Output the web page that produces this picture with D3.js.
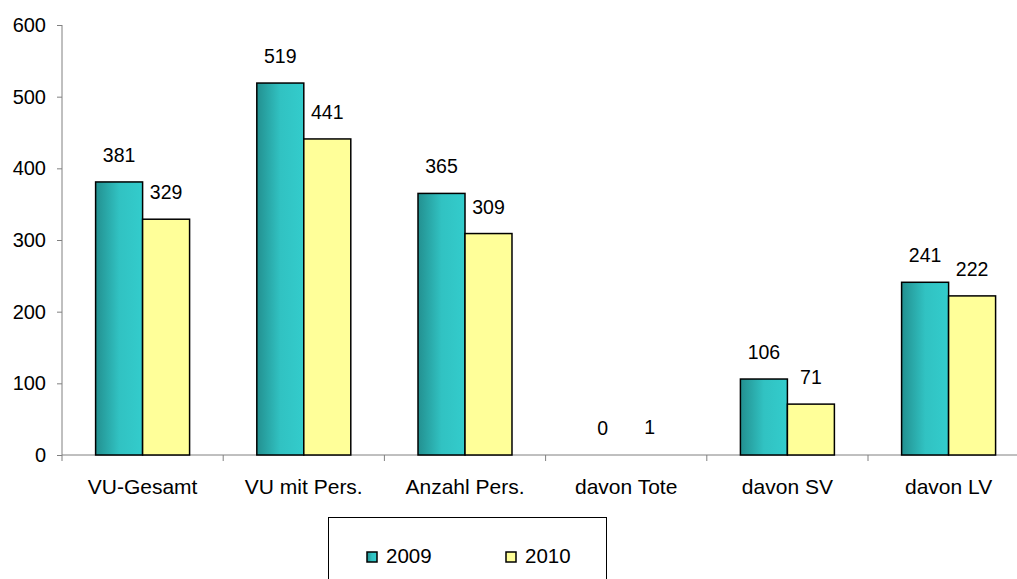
<!DOCTYPE html>
<html>
<head>
<meta charset="utf-8">
<script src="https://cdn.jsdelivr.net/npm/d3@7"></script>
<style>
  body { margin: 0; background: #fff; }
  text { font-family: "Liberation Sans", Arial, sans-serif; fill: #000; }
</style>
</head>
<body>
<div id="chart"></div>
<script>
// data
var categories = ["VU-Gesamt", "VU mit Pers.", "Anzahl Pers.", "davon Tote", "davon SV", "davon LV"];
var series = ["2009", "2010"];
var values2009 = [381, 519, 365, 0, 106, 241];
var values2010 = [329, 441, 309, 1, 71, 222];
var yTicks = [0, 100, 200, 300, 400, 500, 600];

var W = 1017, H = 579;
var left = 62, top_ = 25, bottom = 455;
var step = 161.2;

var svg = d3.select("#chart").append("svg")
    .attr("width", W).attr("height", H);

var defs = svg.append("defs");
var grad = defs.append("linearGradient").attr("id", "teal")
    .attr("x1", "0%").attr("x2", "100%").attr("y1", "0%").attr("y2", "0%");
grad.append("stop").attr("offset", "0%").attr("stop-color", "#239090");
grad.append("stop").attr("offset", "50%").attr("stop-color", "#31c2c2");
grad.append("stop").attr("offset", "100%").attr("stop-color", "#33cccc");

var colors = { "2009": "url(#teal)", "2010": "#ffff99" };

var x0 = d3.scaleBand().domain(categories)
    .range([left, left + step * categories.length]).padding(0);
var x1 = d3.scaleBand().domain(series)
    .range([x0.bandwidth() * 0.2085, x0.bandwidth() * 0.7915]).padding(0);
var y = d3.scaleLinear().domain([0, 600]).range([bottom, top_]);

// y axis
var yAxis = svg.append("g")
    .attr("transform", "translate(" + left + ",0)")
    .call(d3.axisLeft(y).tickValues(yTicks).tickSize(5).tickPadding(11));
yAxis.select(".domain").attr("stroke", "#808080").attr("d", "M0," + top_ + "V" + bottom);
yAxis.selectAll(".tick line").attr("stroke", "#808080");
yAxis.selectAll(".tick text")
    .style("font-family", "Liberation Sans, Arial, sans-serif")
    .style("font-size", "20px").attr("fill", "#000");

// x axis line and ticks at category boundaries
svg.append("line")
    .attr("x1", left).attr("x2", W).attr("y1", bottom).attr("y2", bottom)
    .attr("stroke", "#808080");
var bounds = categories.map(function (c) { return x0(c); });
bounds.push(x0.range()[1]);
svg.selectAll(".xtick").data(bounds).enter().append("line")
    .attr("x1", function (d) { return d; }).attr("x2", function (d) { return d; })
    .attr("y1", bottom).attr("y2", bottom + 6)
    .attr("stroke", "#808080");

svg.selectAll(".xlabel").data(categories).enter().append("text")
    .attr("x", function (d) { return x0(d) + x0.bandwidth() / 2; })
    .attr("y", 494)
    .attr("text-anchor", "middle")
    .style("font-size", "21px")
    .text(function (d) { return d; });

// bars
var rows = categories.map(function (c, i) {
  return { cat: c, vals: [{ s: "2009", v: values2009[i] }, { s: "2010", v: values2010[i] }] };
});

var groups = svg.selectAll(".grp").data(rows).enter().append("g")
    .attr("transform", function (d) { return "translate(" + x0(d.cat) + ",0)"; });

// bars too thin to show an outline are left out (as in the original)
groups.selectAll("rect").data(function (d) { return d.vals.filter(function (e) { return bottom - y(e.v) > 2; }); })
  .enter().append("rect")
    .attr("x", function (d) { return x1(d.s); })
    .attr("y", function (d) { return y(d.v); })
    .attr("width", x1.bandwidth())
    .attr("height", function (d) { return bottom - y(d.v); })
    .attr("fill", function (d) { return colors[d.s]; })
    .attr("stroke", "#000").attr("stroke-width", 1.5);

groups.selectAll(".val").data(function (d) { return d.vals; })
  .enter().append("text")
    .attr("x", function (d) { return x1(d.s) + x1.bandwidth() / 2; })
    .attr("y", function (d) { return y(d.v) - 20; })
    .attr("text-anchor", "middle")
    .style("font-size", "19.5px")
    .text(function (d) { return d.v; });

// legend
var lg = svg.append("g");
lg.append("rect").attr("x", 328.5).attr("y", 517.5).attr("width", 278).attr("height", 80)
    .attr("fill", "#fff").attr("stroke", "#000").attr("stroke-width", 1);
var legendX = [367, 506];
series.forEach(function (s, i) {
  lg.append("rect").attr("x", legendX[i]).attr("y", 552).attr("width", 10).attr("height", 10)
      .attr("fill", colors[s]).attr("stroke", "#000").attr("stroke-width", 1.5);
  lg.append("text").attr("x", legendX[i] + 19).attr("y", 563)
      .style("font-size", "20.5px").text(s);
});
</script>
</body>
</html>
